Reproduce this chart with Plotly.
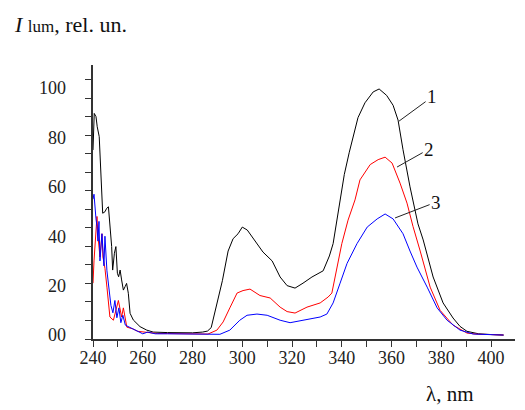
import plotly.graph_objects as go

# luminescence spectra, curves 1-3
wl_1 = [240, 240.5, 241.2, 241.7, 242.5, 242.8, 243.2, 243.9, 244.8, 245.5, 246.2, 246.8,
        247.5, 247.9, 248.6, 249.2, 249.8, 250.3, 250.9, 251.5, 252.2, 252.9, 253.5, 254.2,
        254.9, 256.2, 258.9, 261.6, 264.2, 270, 275, 280, 284, 286, 287.5, 289, 290.5, 292,
        294.3, 296.3, 298.3, 300, 302, 305, 308.3, 312, 315.2, 318, 321.2, 324.4, 328, 332.5,
        335, 336.5, 338, 339.3, 341, 343, 346.5, 349.3, 352.6, 355, 358, 360.6, 362.6, 364.6,
        367.4, 370.6, 372.7, 376.7, 380.7, 384.7, 387.5, 390.3, 395, 400, 405]
int_1 = [74.9, 89.7, 88.4, 84.3, 80.3, 72.2, 61.4, 49.3, 49.9, 51.3, 51.9, 45.2,
         35.8, 26.3, 33.1, 35.8, 25.0, 23.6, 26.3, 22.3, 18.2, 19.6, 20.9, 16.9,
         8.8, 6.1, 3.4, 2.0, 1.2, 1.0, 0.8, 0.9, 1.2, 1.6, 3.0, 9.0, 16.0, 22.0,
         34.0, 39.0, 41.0, 43.7, 42.5, 38.5, 33.6, 30.0, 23.5, 20.0, 19.0, 21.0, 23.5, 26.0,
         32.0, 37.0, 46.5, 54.7, 65.0, 74.0, 88.0, 94.0, 98.4, 99.6, 97.0, 93.0, 87.0, 75.0,
         60.0, 45.0, 38.5, 23.5, 13.0, 6.9, 3.5, 1.5, 0.5, 0.2, 0.0]

wl_2 = [240, 240.4, 241.6, 242, 242.8, 243.6, 244, 244.8, 245.6, 246.8, 248.2, 249, 250.2,
        251.5, 252.2, 253.6, 256, 258, 262, 266, 270, 275, 280, 284, 286.2, 289.8, 292.3,
        295, 297.9, 300.3, 303.1, 307.1, 311.2, 315.2, 318, 321.2, 326, 331.3, 334.5, 336,
        338, 340, 342.5, 345.3, 347.3, 351.4, 354.6, 357.4, 360.2, 363.4, 366.2, 368.6,
        371.5, 375.5, 379.5, 384.7, 390.3, 395, 400, 405]
int_2 = [21.0, 30.0, 48.0, 40.0, 31.6, 41.0, 31.6, 27.0, 19.4, 7.3, 6.0, 8.8, 14.0,
         7.3, 11.0, 3.2, 2.5, 1.5, 1.0, 0.6, 0.6, 0.5, 0.5, 0.3, 0.4, 2.0, 5.3,
         11.0, 17.0, 18.0, 18.6, 16.0, 15.0, 11.3, 9.5, 8.9, 11.3, 13.0, 15.4, 17.0,
         27.5, 37.0, 46.5, 54.7, 62.8, 69.0, 71.0, 72.0, 69.6, 61.5, 53.4, 44.0,
         34.0, 19.4, 10.0, 4.0, 0.8, 0.3, 0.2, 0.0]

wl_3 = [240, 240.4, 241.2, 241.6, 242, 242.4, 242.8, 243.6, 244.4, 244.8, 245.6, 246.4,
        247.2, 248, 248.8, 249.6, 250.4, 251.2, 252, 253, 255, 258, 260, 262, 265, 270, 280,
        285, 291, 295, 299, 301.9, 305.9, 310, 315.2, 319.2, 324.4, 331.3, 334, 336.5, 339.3,
        342.1, 346.1, 350.2, 354.2, 357.4, 360.6, 364.6, 367.4, 370.2, 374.3, 378.3, 382.3,
        387.5, 392.8, 400, 405]
int_3 = [55.0, 57.0, 47.0, 44.0, 38.0, 46.0, 30.0, 41.0, 28.0, 40.0, 26.0, 20.0,
         12.0, 9.0, 14.0, 7.0, 11.0, 5.0, 8.0, 4.0, 3.0, 1.5, 0.5, 1.2, 0.5, 0.5, 0.3,
         0.2, 0.3, 2.0, 6.0, 8.0, 8.5, 8.0, 6.0, 5.0, 6.0, 7.3, 8.5, 13.0, 21.0,
         29.0, 37.0, 43.7, 47.0, 49.0, 47.0, 41.0, 34.0, 27.5, 19.4, 11.0, 6.0,
         2.0, 0.4, 0.1, 0.0]

curve_names = ["1", "2", "3"]
curve_colors = ["#000000", "#ff0000", "#0000ff"]
# leader lines: point on curve -> label position
lead_pts = [(363.0, 86.6), (362.2, 68.0), (361.4, 47.4)]
lead_lbl = [(376.3, 96.4), (375.1, 75.3), (377.9, 53.8)]

y_vals = [0, 20, 40, 60, 80, 100]
y_text = ["00", "20", "40", "60", "80", "100"]
x_vals = [240, 260, 280, 300, 320, 340, 360, 380, 400]

Y_RANGE = [-1.6, 109.3]
# the scanned axis has its tick marks on a different step than its labels
y_tick_marks = [Y_RANGE[0] + 7.49 * k for k in range(15)]

SERIF = "Liberation Serif, Times New Roman, serif"

fig = go.Figure()
for wl, vals, col, nm in zip([wl_1, wl_2, wl_3], [int_1, int_2, int_3], curve_colors, curve_names):
    fig.add_trace(go.Scatter(x=wl, y=vals, mode="lines", name=nm,
                             line=dict(color=col, width=1), showlegend=False))
# invisible trace to activate the label axis
fig.add_trace(go.Scatter(x=[wl_1[0]], y=[int_1[0]], yaxis="y2", mode="markers",
                         marker=dict(opacity=0), showlegend=False, hoverinfo="skip"))

for (px, py), (lx, ly), nm in zip(lead_pts, lead_lbl, curve_names):
    fig.add_annotation(x=px, y=py, ax=lx, ay=ly, axref="x", ayref="y",
                       text=nm, showarrow=True, arrowhead=0, arrowwidth=1,
                       arrowcolor="#222", font=dict(family=SERIF, size=19, color="#111"))

fig.update_xaxes(range=[240, 409.6], tickvals=x_vals, ticks="outside", ticklen=6,
                 tickcolor="#333", showline=True, linecolor="#333", linewidth=1.5,
                 showgrid=False, zeroline=False, ticklabelstandoff=-4,
                 tickfont=dict(family=SERIF, size=18, color="#222"),
                 minor=dict(ticks="outside", dtick=10, tick0=250, ticklen=6, tickcolor="#333"))
fig.update_layout(
    yaxis=dict(range=Y_RANGE, tickvals=y_tick_marks, showticklabels=False,
               ticks="outside", ticklen=6, tickcolor="#333",
               showline=True, linecolor="#333", linewidth=1.5,
               showgrid=False, zeroline=False),
    yaxis2=dict(range=Y_RANGE, overlaying="y", side="left", tickvals=y_vals,
                ticktext=y_text, ticks="", showline=False, showgrid=False,
                zeroline=False, ticklabelstandoff=26,
                tickfont=dict(family=SERIF, size=18, color="#222")),
)

fig.add_annotation(xref="paper", yref="paper", x=-0.193, y=1.146, xanchor="left",
                   yanchor="middle", showarrow=False,
                   text="<i>I</i> <span style='font-size:17px'>lum</span>, rel. un.",
                   font=dict(family=SERIF, size=22, color="#111"))
fig.add_annotation(xref="paper", yref="paper", x=0.845, y=-0.2, xanchor="center",
                   yanchor="middle", showarrow=False, text="λ, nm",
                   font=dict(family=SERIF, size=21, color="#111"))

fig.update_layout(width=525, height=410, margin=dict(l=85, r=18, t=57, b=79),
                  plot_bgcolor="white", paper_bgcolor="white")
fig.write_html("out.html")
